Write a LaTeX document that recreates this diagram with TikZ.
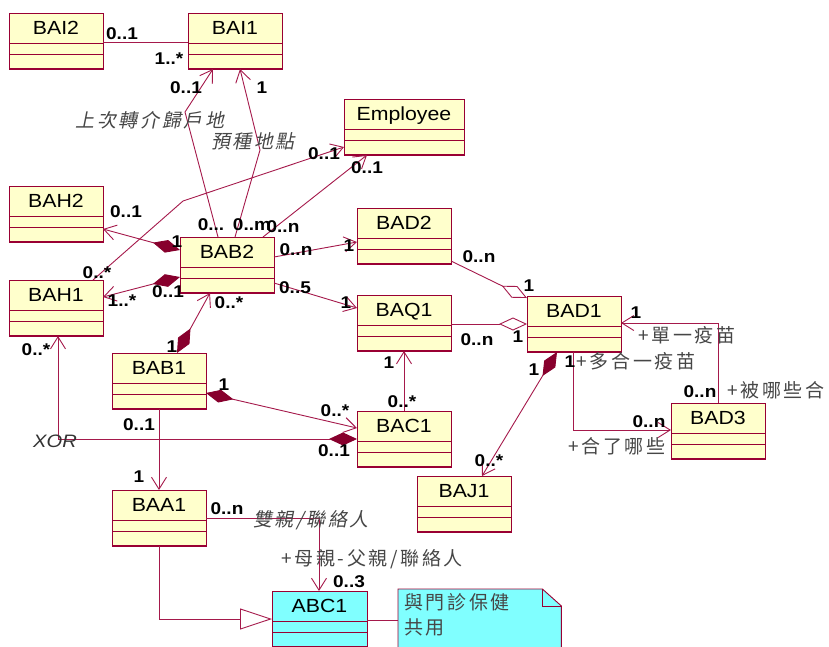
\documentclass[tikz,border=0pt]{standalone}
\usepackage{fontspec}
\setmainfont{Liberation Sans}[FakeStretch=1.12]
\newfontfamily\cjk{Noto Sans CJK TC}[LetterSpace=14]
\newfontfamily\cjkit{Noto Sans CJK TC}[LetterSpace=14,FakeSlant=0.2]
\usetikzlibrary{arrows.meta,calc}

\definecolor{edgec}{RGB}{165,25,75}
\definecolor{boxc}{RGB}{153,0,51}
\definecolor{diamc}{RGB}{135,0,45}
\definecolor{classfill}{RGB}{255,255,204}
\definecolor{cyanfill}{RGB}{128,255,255}
\definecolor{rolec}{RGB}{70,70,70}

\tikzset{
  classbox/.style={draw=boxc, fill=classfill, line width=0.9pt, rectangle,
    anchor=north west, minimum width=94pt, minimum height=56pt,
    inner sep=0pt, outer sep=0pt},
  cname/.style={font=\fontsize{19}{21}\selectfont, inner sep=0pt,
    text height=13.6pt, text depth=0pt},
  mult/.style={font=\fontsize{17}{19}\selectfont\bfseries, inner sep=0pt,
    text height=12.2pt, text depth=0pt},
  role/.style={font=\cjk\fontsize{19}{21}\selectfont, text=rolec, inner sep=0pt},
  roleit/.style={font=\cjkit\fontsize{19}{21}\selectfont, text=rolec, inner sep=0pt},
  assoc/.style={draw=edgec, line width=0.9pt},
  nav/.style={assoc, -{Straight Barb[length=12pt,width=15pt]}},
  comp/.style={assoc, {Diamond[length=28pt,width=13pt,fill=diamc,color=diamc]}-{Straight Barb[length=12pt,width=15pt]}},
  aggr/.style={assoc, {Diamond[open,length=28pt,width=13pt]}-},
  gener/.style={assoc, -{Triangle[open,length=32pt,width=21pt]}},
}

% class box with name compartment and two empty compartments
\newcommand\umlclass[4]{%
  \node[classbox,#4] (#1) at (#2) {};
  \node[cname] (#1-title) at ([yshift=-15pt]#1.north) {#3};
  \draw[draw=boxc, line width=0.9pt]
    ([yshift=-30pt]#1.north west) -- ([yshift=-30pt]#1.north east)
    ([yshift=-41pt]#1.north west) -- ([yshift=-41pt]#1.north east);
  \draw[draw=boxc, line width=1.6pt] (#1.south west) -- (#1.south east);
}

\begin{document}
\begin{tikzpicture}[x=1pt,y=-1pt]
\useasboundingbox[fill=white] (0,0) rectangle (829,646);

% ---------- classes ----------
\umlclass{bai2}{9,13}{BAI2}{}
\umlclass{bai1}{188,13}{BAI1}{}
\umlclass{employee}{344,99}{Employee}{minimum width=120pt}
\umlclass{bah2}{9,186}{BAH2}{}
\umlclass{bab2}{180,237}{BAB2}{}
\umlclass{bad2}{357,208}{BAD2}{}
\umlclass{bah1}{9,280}{BAH1}{}
\umlclass{baq1}{357,295}{BAQ1}{}
\umlclass{bad1}{527,296}{BAD1}{}
\umlclass{bab1}{112,353}{BAB1}{}
\umlclass{bac1}{357,411}{BAC1}{}
\umlclass{bad3}{671,403}{BAD3}{}
\umlclass{baj1}{417,476}{BAJ1}{}
\umlclass{baa1}{112,490}{BAA1}{}
\umlclass{abc1}{272,591}{ABC1}{minimum width=95pt, fill=cyanfill}

% ---------- note ----------
\node[anchor=north west, minimum width=163pt, minimum height=70pt, inner sep=0pt] (note) at (398,589) {};
\filldraw[fill=cyanfill, draw=boxc, line width=0.9pt]
  (note.south west) -- (note.north west) -- ([xshift=-19pt]note.north east)
  -- ([yshift=-17pt]note.north east) -- (note.south east) -- cycle;
\draw[draw=boxc, line width=0.9pt] ([xshift=-19pt]note.north east) |- ([yshift=-17pt]note.north east);
\node[anchor=north west, align=left, inner sep=0pt, text=rolec,
  font=\cjk\fontsize{19}{25}\selectfont] (note-text) at ([shift={(6,4)}]note.north west) {與門診保健\\共用};

% ---------- connectors ----------
\coordinate (bendA) at (185,112);
\coordinate (bendB) at (260,150);
\coordinate (bendC) at (183,201);

\draw[assoc] ([yshift=-29pt]bai2.north east) -- ([yshift=-29pt]bai1.north west);
\draw[nav] ([shift={(38,0)}]bab2.north west) -- (bendA) -- ([shift={(25,0)}]bai1.south west);
\draw[nav] ([shift={(55,0)}]bab2.north west) -- (bendB) -- ([shift={(52,0)}]bai1.south west);
\draw[nav] ([shift={(83,0)}]bab2.north west) -- ([shift={(23,0)}]employee.south west);
\draw[nav] ([shift={(84,0)}]bah1.north west) -- (bendC) -- ([shift={(0,48)}]employee.north west);

\draw[comp] ([shift={(0,13)}]bab2.north west) -- ([shift={(0,43)}]bah2.north east);
\draw[comp] ([shift={(0,40)}]bab2.north west) -- ([shift={(0,17)}]bah1.north east);
\draw[comp] ([shift={(65,0)}]bab1.north west) -- ([shift={(30,0)}]bab2.south west);
\draw[nav] ([shift={(0,20)}]bab2.north east) -- ([shift={(0,34)}]bad2.north west);
\draw[nav] ([shift={(0,46)}]bab2.north east) -- ([shift={(0,13)}]baq1.north west);

\draw[aggr] ([shift={(0,2)}]bad1.north west) -- ([shift={(0,53)}]bad2.north east);
\draw[aggr] ([shift={(0,28)}]bad1.north west) -- ([shift={(0,29)}]baq1.north east);
\draw[comp] ([shift={(30,0)}]bad1.south west) -- ([shift={(65,0)}]baj1.north west);
\draw[nav] ([shift={(47,0)}]bac1.north west) -- ([shift={(47,0)}]baq1.south west);
\draw[comp] ([shift={(0,40)}]bab1.north east) -- ([shift={(0,17)}]bac1.north west);
\draw[comp] ([shift={(0,28)}]bac1.north west) -| ([shift={(49,0)}]bah1.south west);

\draw[nav] ([shift={(47,0)}]bab1.south west) -- ([shift={(47,0)}]baa1.north west);
\draw[nav] ([shift={(0,28)}]baa1.north east) -| ([shift={(47,0)}]abc1.north west);
\draw[gener] ([shift={(47,0)}]baa1.south west) |- ([shift={(0,28)}]abc1.north west);
\draw[assoc] ([shift={(0,29)}]abc1.north east) -- ([shift={(0,31)}]note.north west);

\draw[nav] ([shift={(46,0)}]bad1.south west) |- ([shift={(0,27)}]bad3.north west);
\draw[nav] ([shift={(47,0)}]bad3.north west) |- ([shift={(0,27)}]bad1.north east);

% ---------- multiplicities ----------
\node[mult] (m1) at (122,33) {0..1};
\node[mult] (m2) at (169,58) {1..*};
\node[mult] (m3) at (186,87) {0..1};
\node[mult] (m4) at (262,87) {1};
\node[mult] (m5) at (211,224) {0...};
\node[mult] (m6) at (252,224) {0..m};
\node[mult] (m7) at (283,226) {0..n};
\node[mult] (m8) at (324,153) {0..1};
\node[mult] (m9) at (367,167) {0..1};
\node[mult] (m10) at (97,272) {0..*};
\node[mult] (m11) at (126,211) {0..1};
\node[mult] (m12) at (177,241) {1};
\node[mult] (m13) at (168,291) {0..1};
\node[mult] (m14) at (122,300) {1..*};
\node[mult] (m15) at (172,346) {1};
\node[mult] (m16) at (229,302) {0..*};
\node[mult] (m17) at (296,249) {0..n};
\node[mult] (m18) at (349,245) {1};
\node[mult] (m19) at (295,287) {0..5};
\node[mult] (m20) at (346,302) {1};
\node[mult] (m21) at (479,256) {0..n};
\node[mult] (m22) at (529,285) {1};
\node[mult] (m23) at (477,339) {0..n};
\node[mult] (m24) at (518,336) {1};
\node[mult] (m25) at (534,369) {1};
\node[mult] (m26) at (489,460) {0..*};
\node[mult] (m27) at (389,362) {1};
\node[mult] (m28) at (402,401) {0..*};
\node[mult] (m29) at (224,384) {1};
\node[mult] (m30) at (335,410) {0..*};
\node[mult] (m31) at (36,349) {0..*};
\node[mult] (m32) at (334,450) {0..1};
\node[mult] (m33) at (139,424) {0..1};
\node[mult] (m34) at (139,476) {1};
\node[mult] (m35) at (227,508) {0..n};
\node[mult] (m36) at (349,581) {0..3};
\node[mult] (m37) at (570,361) {1};
\node[mult] (m38) at (649,421) {0..n};
\node[mult] (m39) at (636,312) {1};
\node[mult] (m40) at (700,391) {0..n};

% ---------- role names ----------
\node[roleit] (r1) at (150,120) {上次轉介歸戶地};
\node[roleit] (r2) at (253,141) {預種地點};
\node[roleit] (r3) at (311,520) {雙親/聯絡人};
\node[role] (r4) at (372,559) {+母親-父親/聯絡人};
\node[role] (r5) at (636,361) {+多合一疫苗};
\node[role] (r6) at (617,446) {+合了哪些};
\node[role] (r7) at (687,335) {+單一疫苗};
\node[role] (r8) at (776,390) {+被哪些合};
\node[font=\fontsize{18}{20}\selectfont\itshape, inner sep=0pt, text=black!80] (xor) at (55,441) {XOR};
\end{tikzpicture}
\end{document}
